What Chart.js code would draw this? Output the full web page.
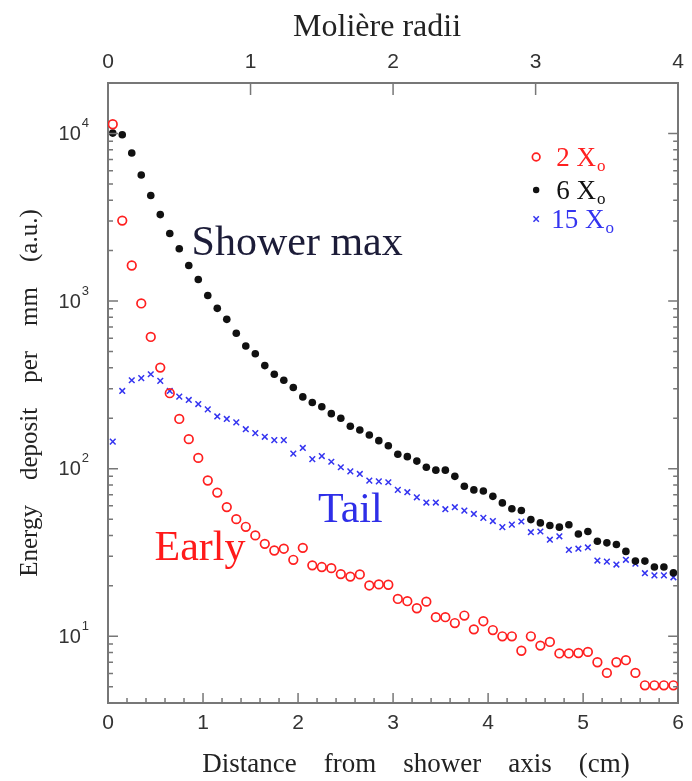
<!DOCTYPE html>
<html>

<head>
    <meta charset="utf-8">
    <title>Lateral shower profile</title>
    <style>
        html, body { margin: 0; padding: 0; background: #fff; }
        #wrap { width: 692px; height: 781px; }
    </style>
</head>

<body>
    <div id="wrap"><canvas id="myChart" width="692" height="781"></canvas></div>
    <script src="https://cdn.jsdelivr.net/npm/chart.js@4.4.6/dist/chart.umd.min.js"></script>
    <script>
        // distance from shower axis (cm), one bin every mm
        const distance = [
            0.05, 0.15, 0.25, 0.35, 0.45, 0.55, 0.65, 0.75, 0.85, 0.95,
            1.05, 1.15, 1.25, 1.35, 1.45, 1.55, 1.65, 1.75, 1.85, 1.95,
            2.05, 2.15, 2.25, 2.35, 2.45, 2.55, 2.65, 2.75, 2.85, 2.95,
            3.05, 3.15, 3.25, 3.35, 3.45, 3.55, 3.65, 3.75, 3.85, 3.95,
            4.05, 4.15, 4.25, 4.35, 4.45, 4.55, 4.65, 4.75, 4.85, 4.95,
            5.05, 5.15, 5.25, 5.35, 5.45, 5.55, 5.65, 5.75, 5.85, 5.95,
        ]
        // 2 X0 (early)
        const depth2 = [
            11350, 3020, 1630, 968, 611, 401, 282, 198, 150, 116,
            85, 72, 59, 50, 45, 40, 35.6, 32.5, 33.3, 28.6,
            33.7, 26.5, 25.9, 25.5, 23.5, 22.7, 23.4, 20.1, 20.4, 20.3,
            16.7, 16.2, 14.7, 16.1, 13.0, 13.0, 12.0, 13.3, 11.0, 12.3,
            10.9, 10.0, 10.0, 8.2, 10.0, 8.8, 9.25, 7.9, 7.9, 7.95,
            8.07, 7.0, 6.05, 7.0, 7.2, 6.05, 5.1, 5.1, 5.1, 5.1,
        ]
        // 6 X0 (shower max)
        const depth6 = [
            10050, 9820, 7640, 5650, 4260, 3280, 2530, 2050, 1630, 1345,
            1080, 905, 778, 643, 540, 485, 412, 366, 337, 305,
            268, 248, 234, 213, 200, 179, 170, 159, 147, 137,
            122, 118, 111, 102, 98, 98, 90, 78.5, 74.7, 73.6,
            68.4, 62.5, 57.7, 56.3, 49.7, 47.5, 45.8, 44.8, 46.3, 40.8,
            42.2, 36.9, 36.1, 35.3, 32.1, 28.1, 28.1, 25.9, 25.9, 23.9,
        ]
        // 15 X0 (tail)
        const depth15 = [
            145, 291, 337, 347, 366, 334, 291, 269, 257, 243,
            226, 205, 198, 189, 172, 163, 155, 148, 148, 123,
            133, 114, 119, 110, 102, 96.4, 93, 84.9, 84, 83,
            74.7, 72.4, 67.5, 62.8, 62.8, 57.3, 58.9, 56.2, 53.7, 50.9,
            48.7, 44.8, 46.4, 48.4, 41.8, 42.2, 37.7, 39.5, 32.8, 33.3,
            33.9, 28.3, 27.9, 26.8, 28.6, 27.1, 23.8, 23.1, 23.1, 22.5,
        ]
        const seriesNames = ["2 X", "6 X", "15 X"]
        const yTickValues = [10, 100, 1000, 10000]
        const yTickExponents = ["1", "2", "3", "4"]
        const moliereTicks = [1, 2, 3]

        const RED = "#ff2020"
        const BLACK = "#111111"
        const BLUE = "#3434f0"

        const notes = [
            { text: "Shower max", x: 0.88, y: 1880, color: "#1c1c38" },
            { text: "Tail", x: 2.21, y: 48.4, color: "#2e2ee8" },
            { text: "Early", x: 0.49, y: 28.7, color: "#ff1a1a" },
        ]

        const toPoints = values => values.map((v, i) => ({ x: distance[i], y: v }))

        const decorPlugin = {
            id: "decor",
            afterDraw(chart) {
                const { ctx, chartArea: a, scales } = chart
                const x = scales.x, x2 = scales.x2, y = scales.y
                ctx.save()
                // inward tick marks
                ctx.strokeStyle = "#777"
                ctx.lineWidth = 1.5
                ctx.beginPath()
                for (let i = 0; i <= 30; i++) {
                    const px = x.getPixelForValue(i / 5)
                    const len = i % 5 === 0 ? 10 : 5
                    ctx.moveTo(px, a.bottom)
                    ctx.lineTo(px, a.bottom - len)
                }
                moliereTicks.forEach(v => {
                    const px = x2.getPixelForValue(v)
                    ctx.moveTo(px, a.top)
                    ctx.lineTo(px, a.top + 12)
                })
                for (let e = 0; e <= 4; e++) {
                    for (let k = 1; k <= 9; k++) {
                        const v = k * Math.pow(10, e)
                        if (v < y.min || v > y.max) continue
                        const py = y.getPixelForValue(v)
                        const len = k === 1 ? 10 : 5
                        ctx.moveTo(a.left, py)
                        ctx.lineTo(a.left + len, py)
                        ctx.moveTo(a.right, py)
                        ctx.lineTo(a.right - len, py)
                    }
                }
                ctx.stroke()

                // y labels as 10 with a raised exponent
                ctx.fillStyle = "#333"
                ctx.textAlign = "right"
                ctx.textBaseline = "middle"
                yTickValues.forEach((v, i) => {
                    const py = y.getPixelForValue(v)
                    const right = a.left - 19
                    ctx.font = "13px 'Liberation Sans'"
                    const ew = ctx.measureText(yTickExponents[i]).width
                    ctx.fillText(yTickExponents[i], right, py - 10)
                    ctx.font = "20px 'Liberation Sans'"
                    ctx.fillText("10", right - ew - 1, py + 1)
                })

                // text notes
                ctx.textAlign = "left"
                ctx.textBaseline = "alphabetic"
                ctx.font = "42px 'Liberation Serif'"
                notes.forEach(n => {
                    ctx.fillStyle = n.color
                    ctx.fillText(n.text, x.getPixelForValue(n.x), y.getPixelForValue(n.y))
                })

                // legend
                const styles = chart.data.datasets
                const rows = [a.top + 74, a.top + 107, a.top + 136]
                const mx = a.right - 142
                rows.forEach((ry, i) => {
                    const ds = styles[i]
                    ctx.strokeStyle = ds.borderColor
                    ctx.fillStyle = ds.backgroundColor
                    ctx.lineWidth = ds.borderWidth
                    Chart.helpers.drawPoint(ctx, {
                        pointStyle: ds.pointStyle,
                        radius: i === 1 ? 3.2 : 3.8,
                        borderWidth: ds.borderWidth,
                    }, mx, ry)
                    const tx = mx + (i === 2 ? 15 : 20)
                    ctx.fillStyle = ds.labelColor
                    ctx.font = "27px 'Liberation Serif'"
                    ctx.fillText(seriesNames[i], tx, ry + 9)
                    const w = ctx.measureText(seriesNames[i]).width
                    ctx.font = "17px 'Liberation Serif'"
                    ctx.fillText("o", tx + w + 1, ry + 14)
                })
                ctx.restore()
            },
        }

        const axisFont = { family: "'Liberation Sans'", size: 21 }
        const noGrid = { drawOnChartArea: false, drawTicks: false }
        const border = { color: "#777", width: 2 }

        const config = {
            type: "scatter",
            data: {
                datasets: [{
                    label: "2 X0",
                    data: toPoints(depth2),
                    pointStyle: "circle",
                    pointRadius: 4.3,
                    borderWidth: 1.7,
                    borderColor: RED,
                    backgroundColor: "rgba(255,255,255,0)",
                    labelColor: RED,
                }, {
                    label: "6 X0",
                    data: toPoints(depth6),
                    pointStyle: "circle",
                    pointRadius: 3.8,
                    borderWidth: 0,
                    borderColor: BLACK,
                    backgroundColor: BLACK,
                    labelColor: BLACK,
                }, {
                    label: "15 X0",
                    data: toPoints(depth15),
                    pointStyle: "crossRot",
                    pointRadius: 4,
                    borderWidth: 1.5,
                    borderColor: BLUE,
                    backgroundColor: BLUE,
                    labelColor: BLUE,
                }],
            },
            options: {
                responsive: false,
                animation: false,
                devicePixelRatio: 1,
                layout: { padding: 0 },
                plugins: {
                    legend: { display: false },
                    tooltip: { enabled: false },
                },
                scales: {
                    x: {
                        type: "linear",
                        position: "bottom",
                        min: 0,
                        max: 6,
                        ticks: { stepSize: 1, font: axisFont, color: "#333", padding: 8, maxRotation: 0 },
                        grid: noGrid,
                        border: border,
                        title: {
                            display: true,
                            text: "\u2003\u2002\u2009Distance\u2003from\u2003shower\u2003axis\u2003(cm)",
                            font: { family: "'Liberation Serif'", size: 27 },
                            color: "#222",
                            padding: 0,
                        },
                        afterFit: s => { s.height = 78 },
                    },
                    x2: {
                        type: "linear",
                        position: "top",
                        min: 0,
                        max: 4,
                        ticks: { stepSize: 1, font: axisFont, color: "#333", padding: 8, maxRotation: 0 },
                        grid: noGrid,
                        border: border,
                        title: {
                            display: true,
                            text: "Molière radii\u2003",
                            font: { family: "'Liberation Serif'", size: 32 },
                            color: "#222",
                            padding: { top: 8, bottom: 0 },
                        },
                        afterFit: s => { s.height = 83 },
                    },
                    y: {
                        type: "logarithmic",
                        position: "left",
                        min: 4,
                        max: 20000,
                        afterBuildTicks: s => { s.ticks = yTickValues.map(v => ({ value: v, major: true })) },
                        ticks: { callback: () => "", padding: 0 },
                        grid: noGrid,
                        border: border,
                        title: {
                            display: true,
                            text: "Energy\u2003deposit\u2003per\u2003mm\u2003(a.u.)",
                            font: { family: "'Liberation Serif'", size: 25 },
                            color: "#222",
                            padding: { top: 15, bottom: 0 },
                        },
                        afterFit: s => { s.width = 108 },
                    },
                    y2: {
                        type: "logarithmic",
                        position: "right",
                        min: 4,
                        max: 20000,
                        ticks: { display: false },
                        grid: noGrid,
                        border: border,
                        afterFit: s => { s.width = 9 },
                    },
                },
            },
            plugins: [decorPlugin],
        }

        document.addEventListener("DOMContentLoaded", () => {
            new Chart(document.getElementById("myChart"), config)
        })
    </script>
</body>

</html>
